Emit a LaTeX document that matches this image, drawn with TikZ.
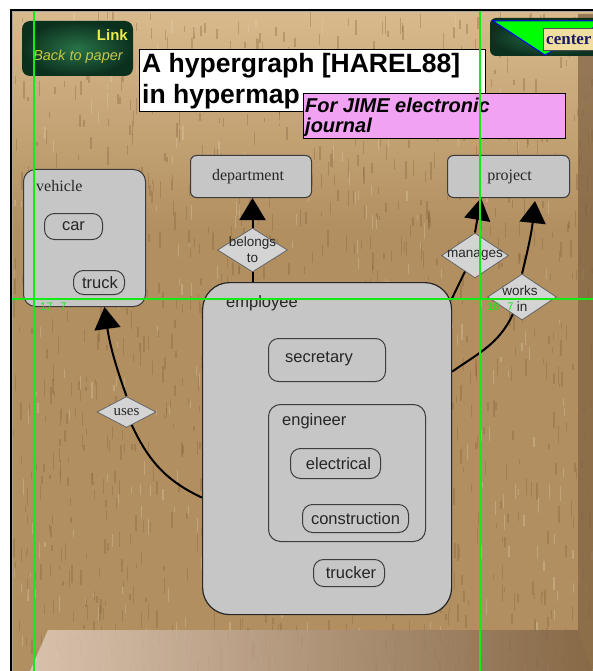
\documentclass[tikz,border=0pt]{standalone}
\usepackage{fontspec}
\setmainfont{Liberation Sans}
\newfontfamily\serifface{Liberation Serif}
\usetikzlibrary{shapes.geometric,arrows.meta,calc}

\definecolor{woodLight}{RGB}{216,186,140}
\definecolor{woodMid}{RGB}{178,143,97}
\definecolor{woodDark}{RGB}{130,92,55}
\definecolor{woodPale}{RGB}{226,206,192}
\definecolor{woodShadow}{RGB}{125,96,64}
\definecolor{boxGray}{RGB}{198,198,198}
\definecolor{boxLine}{RGB}{60,60,60}
\definecolor{diamGray}{RGB}{212,212,212}
\definecolor{notePink}{RGB}{242,162,242}
\definecolor{guideGreen}{RGB}{20,235,20}
\definecolor{btnDark}{RGB}{12,48,30}
\definecolor{btnGlow}{RGB}{40,115,72}
\definecolor{btnText}{RGB}{235,235,80}
\definecolor{tagTan}{RGB}{240,222,160}
\definecolor{tagNavy}{RGB}{25,25,100}

\tikzset{
  box/.style={draw=boxLine, fill=boxGray, line width=1pt, rounded corners=#1,
              inner sep=0pt, anchor=north west},
  sanslbl/.style={font=\fontsize{16.5}{19}\selectfont, text=black!85, inner sep=0pt},
  seriflbl/.style={font=\serifface\fontsize{16}{19}\selectfont, text=black!85, inner sep=0pt},
  diam/.style={diamond, draw=black!60, fill=diamGray, line width=0.8pt, inner sep=0pt},
  dlabel/.style={font=\fontsize{13.5}{16}\selectfont, align=center, text=black!85, inner sep=0pt},
  conn/.style={line width=2pt, black},
  arr/.style={conn, -{Triangle[length=22pt,width=26pt]}},
  streakD/.style={draw=woodDark, draw opacity=0.33, line width=1.4pt},
  streakL/.style={draw=woodLight!60!white, draw opacity=0.3, line width=1.2pt},
  guide/.style={draw=guideGreen, line width=1.5pt},
  guidetxt/.style={font=\fontsize{11}{12}\selectfont, text=guideGreen, inner sep=0pt, anchor=west}
}

\begin{document}
\begin{tikzpicture}[x=1pt,y=-1pt]
\useasboundingbox (0,0) rectangle (593,671);
\fill[white] (0,0) rectangle (593,671);

% wooden board
\begin{scope}
  \clip (12,11) rectangle (593,671);
  \fill[woodMid] (12,11) rectangle (593,671);
  \shade[top color=woodLight, bottom color=woodMid] (12,11) rectangle (593,230);
  \pgfmathsetseed{4242}
  \foreach \k in {1,...,1100} {
    \pgfmathsetmacro\sx{12+581*rnd}
    \pgfmathsetmacro\sy{11+660*rnd}
    \pgfmathsetmacro\sl{4+14*rnd}
    \draw[streakD] (\sx,\sy) -- ++(0,\sl);
  }
  \foreach \k in {1,...,300} {
    \pgfmathsetmacro\sx{12+581*rnd}
    \pgfmathsetmacro\sy{11+660*rnd}
    \pgfmathsetmacro\sl{4+12*rnd}
    \draw[streakL] (\sx,\sy) -- ++(0,\sl);
  }
  % raised frame edges
  \fill[woodShadow, opacity=0.7] (578,14) -- (593,14) -- (593,671) -- (578,630) -- cycle;
  \shade[left color=woodPale, right color=woodShadow, opacity=0.8]
    (30,671) -- (48,630) -- (578,630) -- (593,671) -- cycle;
\end{scope}
\draw[black, line width=1.2pt] (11,671) -- (11,10) -- (593,10);
\draw[black!35, line width=1pt] (12.5,671) -- (12.5,11.5) -- (593,11.5);

% "Link" button
\shade[inner color=btnGlow, outer color=btnDark, rounded corners=8pt] (22,21) rectangle (133,76);
\node[font=\bfseries\fontsize{15}{17}\selectfont, text=btnText, anchor=east, inner sep=0pt]
  (linkTxt) at (128,35) {Link};
\node[font=\itshape\fontsize{14.5}{16}\selectfont, text=btnText!85!black, inner sep=0pt]
  (backTxt) at (78,57) {Back to paper};

% "center" button
\begin{scope}
  \clip (0,0) rectangle (593,671);
  \shade[inner color=btnGlow, outer color=btnDark, rounded corners=6pt] (490,18) rectangle (610,56);
  \draw[blue, line width=1pt, fill=green] (493,21) -- (605,21) -- (545,55) -- cycle;
  \draw[black!70, fill=tagTan, line width=0.8pt] (543,28) rectangle (610,50);
\end{scope}
\node[font=\serifface\bfseries\fontsize{17}{19}\selectfont, text=tagNavy, anchor=west, inner sep=0pt]
  (centerTxt) at (546,39.5) {center};

% title and note
\node[draw=black, fill=white, line width=1.2pt, anchor=north west, inner sep=0pt,
      minimum width=346pt, minimum height=62pt] (titleBox) at (139,49) {};
\node[font=\bfseries\fontsize{26.5}{30}\selectfont, anchor=west, inner sep=0pt]
  (titleA) at (142,66) {A hypergraph [HAREL88]};
\node[font=\bfseries\fontsize{26.5}{30}\selectfont, anchor=west, inner sep=0pt]
  (titleB) at (142,97) {in hypermap};
\node[draw=black, fill=notePink, line width=1pt, anchor=north west, inner sep=0pt,
      minimum width=262pt, minimum height=45pt] (noteBox) at (303,93) {};
\node[font=\bfseries\itshape\fontsize{20}{22}\selectfont, anchor=west, inner sep=0pt]
  (noteA) at (305,105) {For JIME electronic};
\node[font=\bfseries\itshape\fontsize{20}{22}\selectfont, anchor=west, inner sep=0pt]
  (noteB) at (305,127) {journal};

% blobs
\node[box=12pt, minimum width=122pt, minimum height=137pt] (vehicle) at (23,169) {};
\node[seriflbl, anchor=west] (vehicleName) at (36,186) {vehicle};
\node[box=10pt, minimum width=58pt, minimum height=26pt,
      label={[sanslbl]center:car}] (car) at (44,213) {};
\node[box=10pt, minimum width=51pt, minimum height=24pt,
      label={[sanslbl, xshift=1pt]center:truck}] (truck) at (73,270) {};

\node[box=6pt, minimum width=121pt, minimum height=42pt,
      label={[seriflbl, xshift=-3pt]center:department}] (department) at (190,155) {};
\node[box=6pt, minimum width=122pt, minimum height=42pt,
      label={[seriflbl, xshift=1pt]center:project}] (project) at (447,155) {};

\node[box=27pt, draw=black!85, line width=1.2pt, minimum width=249pt, minimum height=332pt]
  (employee) at (202,282) {};
\node[sanslbl, anchor=west] (employeeName) at (226,303) {employee};
\node[box=10pt, minimum width=117pt, minimum height=43pt,
      label={[sanslbl, xshift=-8pt, yshift=1pt]center:secretary}] (secretary) at (268,338) {};
\node[box=12pt, minimum width=157pt, minimum height=137pt] (engineer) at (268,404) {};
\node[sanslbl, anchor=west] (engineerName) at (282,421) {engineer};
\node[box=10pt, minimum width=90pt, minimum height=30pt,
      label={[sanslbl, xshift=3pt]center:electrical}] (electrical) at (290,448) {};
\node[box=10pt, minimum width=106pt, minimum height=28pt,
      label={[sanslbl]center:construction}] (construction) at (302,504) {};
\node[box=10pt, minimum width=71pt, minimum height=27pt,
      label={[sanslbl, xshift=2pt]center:trucker}] (trucker) at (313,559) {};

% relationship diamonds
\node[diam, minimum width=70pt, minimum height=44pt,
      label={[dlabel]center:belongs\\to}] (belongs) at (252.5,250) {};
\node[diam, minimum width=67pt, minimum height=45pt,
      label={[dlabel]center:manages}] (manages) at (475,255.5) {};
\node[diam, minimum width=69pt, minimum height=46pt,
      label={[dlabel, xshift=-2pt, yshift=-2pt]center:works\\\hspace*{4pt}in}] (works) at (522,297) {};
\node[diam, minimum width=59pt, minimum height=31pt,
      label={[dlabel, font=\serifface\fontsize{15}{17}\selectfont]center:uses}] (uses) at (126.5,412) {};

% connectors
\draw[conn] (belongs.south) -- (belongs.south |- employee.north);
\draw[arr] (belongs.north) -- (belongs.north |- department.south);

\coordinate (mgrFoot) at ($(employee.north east)+(-1,18)$);
\draw[conn] (mgrFoot) -- (manages.-122);
\draw[arr] (manages.north) -- ([xshift=6pt]manages.north |- project.south);

\coordinate (wrkFoot) at ($(employee.east)+(0,-77)$);
\draw[conn] (wrkFoot) to[out=35,in=-115] (works.-118);
\draw[arr] (works.north) to[bend right=4] ([xshift=13pt, yshift=-3pt]works.north |- project.south);

\coordinate (usesFoot) at ($(employee.west)+(0,49)$);
\draw[conn] (usesFoot) to[out=155,in=-65] (uses.-68);
\draw[arr] (uses.north) to[bend left=6] ([xshift=20pt]vehicle.south);

% alignment guides
\draw[guide] (34,11) -- (34,671);
\draw[guide] (480,11) -- (480,671);
\draw[guide] (12,299) -- (593,299);
\node[guidetxt] (guideA) at (40,307) {17\hspace{8pt}7};
\node[guidetxt] (guideB) at (487,307) {18\hspace{8pt}7};
\end{tikzpicture}
\end{document}
